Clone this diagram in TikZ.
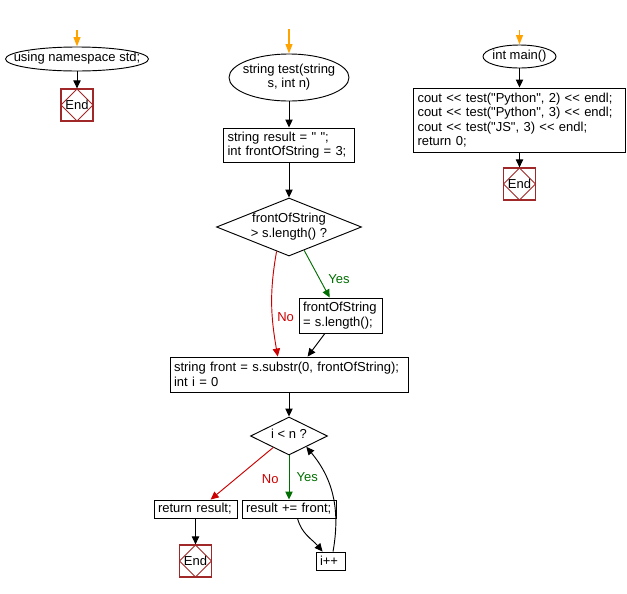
\documentclass[tikz,border=0pt]{standalone}
\usepackage{fontspec}
\usepackage{xcolor}
\usepackage{tikz}
\usetikzlibrary{shapes.geometric,arrows.meta}

\newfontfamily\chartfont{Liberation Sans}
\newdimen\pxu \pxu=0.75pt
\newcommand{\nowidth}[1]{\makebox[0pt]{\begin{tabular}{@{}c@{}}#1\end{tabular}}}

\definecolor{startorange}{RGB}{255,163,0}
\definecolor{nored}{RGB}{204,0,0}
\definecolor{yesgreen}{RGB}{0,110,0}
\definecolor{endred}{RGB}{160,40,40}

\begin{document}
\begin{tikzpicture}[x=0.75pt, y=-0.75pt, line width=0.7pt,
    font=\chartfont\fontsize{9.75}{10.75}\selectfont,
    proc/.style={draw, rectangle, align=left, inner xsep=4\pxu, inner ysep=2\pxu},
    term/.style={draw, ellipse, inner sep=0pt},
    test/.style={draw, diamond, inner sep=0pt},
    stop/.style={draw=endred, line width=0.9pt, rectangle, inner sep=0pt, minimum size=32\pxu,
      path picture={\draw[endred, line width=0.6pt] (path picture bounding box.north) -- (path picture bounding box.east)
        -- (path picture bounding box.south) -- (path picture bounding box.west) -- cycle;}},
    arrow/.style={-{Triangle[length=6pt, width=5.5pt]}},
    start/.style={-{Triangle[length=7pt, width=5pt]}, draw=startorange, line width=1.3pt},
    yes/.style={yesgreen},
    no/.style={nored}
  ]
    \useasboundingbox (0,0) rectangle (627,593);

    % Nodes
    \coordinate (nsstart) at (77,30);
    \node[term, minimum width=143\pxu, minimum height=24\pxu] (ns) at (77,59) {\nowidth{using namespace std;}};
    \node[stop] (nsend) at (77,105) {End};

    \coordinate (teststart) at (289,29);
    \node[term, minimum width=120\pxu, minimum height=47\pxu] (test) at (289,77.5) {\nowidth{string test(string\\s, int n)}};
    \node[proc, text width=123\pxu, minimum height=34\pxu] (init) at (289,145) {string result = " ";\\int frontOfString = 3;};
    \node[test, minimum width=145\pxu, minimum height=58\pxu] (cmp) at (289,227) {\nowidth{frontOfString\\> s.length() ?}};
    \node[proc, text width=75\pxu, minimum height=35\pxu] (clip) at (340.5,315.5) {frontOfString\\= s.length();};
    \node[proc, text width=230\pxu, minimum height=35\pxu] (front) at (289,374.5) {string front = s.substr(0, frontOfString);\\int i = 0};
    \node[test, minimum width=77\pxu, minimum height=38\pxu] (loop) at (289,436) {\nowidth{i < n ?}};
    \node[proc, text width=75\pxu, minimum height=18\pxu] (ret) at (195.5,509) {return result;};
    \node[proc, text width=86\pxu, minimum height=18\pxu] (acc) at (289,509) {result += front;};
    \node[proc, text width=21\pxu, minimum height=18\pxu] (inc) at (330.5,561) {i++};
    \node[stop] (retend) at (195.5,561) {End};

    \coordinate (mainstart) at (519.5,30);
    \node[term, minimum width=73\pxu, minimum height=23\pxu] (main) at (519.5,56.5) {\nowidth{int main()}};
    \node[proc, text width=204\pxu, minimum height=64\pxu] (calls) at (519.5,120) {cout << test("Python", 2) << endl;\\cout << test("Python", 3) << endl;\\cout << test("JS", 3) << endl;\\return 0;};
    \node[stop] (mainend) at (519.5,184) {End};

    % Arrows
    \draw[start] (nsstart) -- (ns);
    \draw[arrow] (ns) -- (nsend);
    \draw[start] (teststart) -- (test);
    \draw[arrow] (test) -- (init);
    \draw[arrow] (init) -- (cmp);
    \draw[arrow, yes] (cmp.-57) -- node[pos=0.6, right=3pt] {Yes} (clip.121);
    \draw[arrow, no] (cmp.-117) to[out=-100, in=100] node[pos=0.63, right] {No} (front.122);
    \draw[arrow] (clip.-131) -- (front.44);
    \draw[arrow] (front) -- (loop);
    \draw[arrow, no] (loop.-144) -- node[pos=0.6, right=16pt] {No} (ret.32);
    \draw[arrow, yes] (loop) -- node[right=2pt] {Yes} (acc);
    \draw[arrow] (ret) -- (retend);
    \draw[arrow] (acc.-48) to[out=-75, in=130] (inc.130);
    \draw[arrow] (inc.75) to[out=80, in=-50] (loop.-32);
    \draw[start] (mainstart) -- (main);
    \draw[arrow] (main) -- (calls);
    \draw[arrow] (calls) -- (mainend);
  \end{tikzpicture}
\end{document}
